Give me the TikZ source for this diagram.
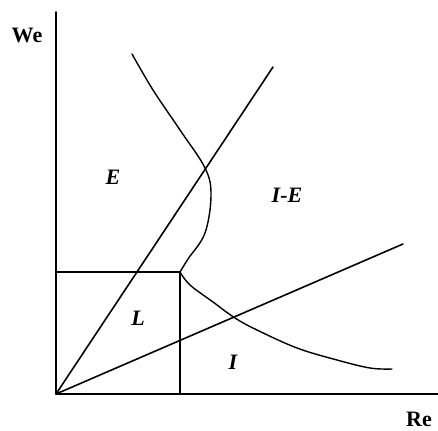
\documentclass[tikz,border=0pt]{standalone}
\usepackage{fontspec}
\setmainfont{Liberation Serif}
\begin{document}
\begin{tikzpicture}[x=1pt,y=-1pt,
  ln/.style={line width=1.6pt,line cap=round,line join=round},
  crv/.style={line width=1.4pt,line cap=round,line join=round},
  axlab/.style={inner sep=0pt,font=\fontsize{22}{26}\selectfont\bfseries},
  reg/.style={inner sep=0pt,font=\fontsize{22}{26}\selectfont\bfseries\itshape}]
\useasboundingbox (0,0) rectangle (438,430);
\coordinate (O) at (56,394);
\coordinate (Ytop) at (56,12);
\coordinate (Xend) at (438,394);
\coordinate (C) at (180,272);
\coordinate (R) at (56,272);
\coordinate (B) at (180,394);
\coordinate (L1) at (273,67);
\coordinate (L2) at (403,244);
\draw[ln] (Ytop) -- (O) -- (Xend);
\draw[ln] (R) -- (C) -- (B);
\draw[ln] (O) -- (L1);
\draw[ln] (O) -- (L2);
\draw[crv] plot[smooth,tension=0.6] coordinates {(132,54) (153,90) (180,130) (205,168) (211,195) (205,233) (188,259) (180,272)};
\draw[crv] plot[smooth,tension=0.6] coordinates {(180,272) (190,285) (213,302) (235,318) (257,330) (297,348) (337,360) (370,368) (392,369)};
\node[axlab] (we) at (27,35) {We};
\node[axlab] (re) at (419,419) {Re};
\node[reg] (e) at (113,177) {E};
\node[reg] (ie) at (287,195) {I-E};
\node[reg] (l) at (138,318) {L};
\node[reg] (i) at (233,362) {I};
\end{tikzpicture}
\end{document}
